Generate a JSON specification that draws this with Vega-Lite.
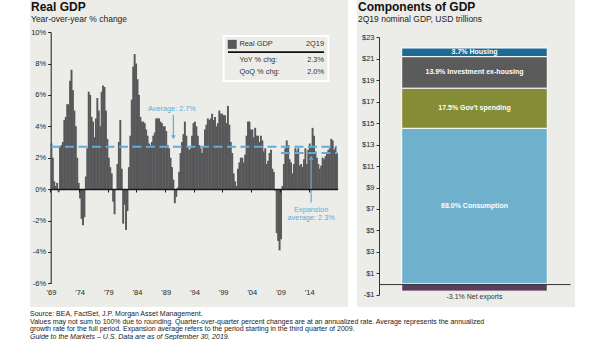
{
"$schema": "https://vega.github.io/schema/vega-lite/v6.json",
"background": "white",
"padding": {"left": 30, "top": 0, "right": 30, "bottom": 0},
"config": {"view": {"fill": "#ecece8", "stroke": null}, "font": "Liberation Sans", "axis": {"grid": false, "labelFont": "Liberation Sans", "labelOverlap": false, "labelBound": false}},
"spacing": 9,
"title": {"text": ["Source: BEA, FactSet, J.P. Morgan Asset Management.", "Values may not sum to 100% due to rounding. Quarter-over-quarter percent changes are at an annualized rate. Average represents the annualized", "growth rate for the full period. Expansion average refers to the period starting in the third quarter of 2009."], "subtitle": "Guide to the Markets – U.S. Data are as of September 30, 2019.", "orient": "bottom", "anchor": "start", "frame": "group", "offset": 3, "font": "Liberation Sans", "fontSize": 7, "fontWeight": "normal", "lineHeight": 7.6, "color": "#1a1a1a", "subtitleFont": "Liberation Sans", "subtitleFontSize": 7, "subtitleFontStyle": "italic", "subtitleColor": "#1a1a1a", "subtitlePadding": 0.6, "subtitleLineHeight": 7.6},
"datasets": {
"gdp": [
{"q":"1969Q3","v":2.9},{"q":"1969Q4","v":2.0},
{"q":"1970Q1","v":0.5},{"q":"1970Q2","v":0.2},{"q":"1970Q3","v":0.4},{"q":"1970Q4","v":-0.2},
{"q":"1971Q1","v":2.7},{"q":"1971Q2","v":2.8},{"q":"1971Q3","v":3.0},{"q":"1971Q4","v":4.4},
{"q":"1972Q1","v":4.6},{"q":"1972Q2","v":5.4},{"q":"1972Q3","v":5.4},{"q":"1972Q4","v":6.9},
{"q":"1973Q1","v":7.6},{"q":"1973Q2","v":6.3},{"q":"1973Q3","v":5.0},{"q":"1973Q4","v":4.0},
{"q":"1974Q1","v":2.0},{"q":"1974Q2","v":0.4},{"q":"1974Q3","v":-0.6},{"q":"1974Q4","v":-1.9},
{"q":"1975Q1","v":-2.3},{"q":"1975Q2","v":-1.8},{"q":"1975Q3","v":0.8},{"q":"1975Q4","v":2.6},
{"q":"1976Q1","v":6.2},{"q":"1976Q2","v":6.0},{"q":"1976Q3","v":4.6},{"q":"1976Q4","v":4.3},
{"q":"1977Q1","v":3.3},{"q":"1977Q2","v":4.5},{"q":"1977Q3","v":5.8},{"q":"1977Q4","v":5.0},
{"q":"1978Q1","v":4.0},{"q":"1978Q2","v":6.2},{"q":"1978Q3","v":6.6},{"q":"1978Q4","v":6.5},
{"q":"1979Q1","v":5.0},{"q":"1979Q2","v":3.2},{"q":"1979Q3","v":2.0},{"q":"1979Q4","v":1.4},
{"q":"1980Q1","v":1.0},{"q":"1980Q2","v":-0.8},{"q":"1980Q3","v":-1.6},{"q":"1980Q4","v":0.0},
{"q":"1981Q1","v":1.6},{"q":"1981Q2","v":3.0},{"q":"1981Q3","v":4.4},{"q":"1981Q4","v":1.3},
{"q":"1982Q1","v":-2.2},{"q":"1982Q2","v":-1.0},{"q":"1982Q3","v":-2.6},{"q":"1982Q4","v":-1.4},
{"q":"1983Q1","v":1.4},{"q":"1983Q2","v":3.4},{"q":"1983Q3","v":5.7},{"q":"1983Q4","v":7.8},
{"q":"1984Q1","v":8.6},{"q":"1984Q2","v":8.0},{"q":"1984Q3","v":7.0},{"q":"1984Q4","v":6.0},
{"q":"1985Q1","v":4.6},{"q":"1985Q2","v":4.3},{"q":"1985Q3","v":4.3},{"q":"1985Q4","v":4.2},
{"q":"1986Q1","v":3.8},{"q":"1986Q2","v":3.4},{"q":"1986Q3","v":2.9},{"q":"1986Q4","v":2.8},
{"q":"1987Q1","v":3.0},{"q":"1987Q2","v":3.4},{"q":"1987Q3","v":3.6},{"q":"1987Q4","v":4.5},
{"q":"1988Q1","v":4.5},{"q":"1988Q2","v":4.5},{"q":"1988Q3","v":4.3},{"q":"1988Q4","v":4.2},
{"q":"1989Q1","v":4.0},{"q":"1989Q2","v":4.0},{"q":"1989Q3","v":3.7},{"q":"1989Q4","v":2.8},
{"q":"1990Q1","v":2.6},{"q":"1990Q2","v":2.0},{"q":"1990Q3","v":1.4},{"q":"1990Q4","v":0.6},
{"q":"1991Q1","v":-0.9},{"q":"1991Q2","v":-0.5},{"q":"1991Q3","v":0.1},{"q":"1991Q4","v":1.1},
{"q":"1992Q1","v":2.3},{"q":"1992Q2","v":3.0},{"q":"1992Q3","v":3.5},{"q":"1992Q4","v":4.3},
{"q":"1993Q1","v":3.4},{"q":"1993Q2","v":2.7},{"q":"1993Q3","v":2.5},{"q":"1993Q4","v":2.6},
{"q":"1994Q1","v":3.4},{"q":"1994Q2","v":4.2},{"q":"1994Q3","v":4.3},{"q":"1994Q4","v":4.0},
{"q":"1995Q1","v":3.4},{"q":"1995Q2","v":2.8},{"q":"1995Q3","v":2.6},{"q":"1995Q4","v":2.3},
{"q":"1996Q1","v":2.7},{"q":"1996Q2","v":3.8},{"q":"1996Q3","v":4.1},{"q":"1996Q4","v":4.5},
{"q":"1997Q1","v":4.4},{"q":"1997Q2","v":4.5},{"q":"1997Q3","v":4.8},{"q":"1997Q4","v":4.4},
{"q":"1998Q1","v":4.6},{"q":"1998Q2","v":4.0},{"q":"1998Q3","v":4.2},{"q":"1998Q4","v":5.0},
{"q":"1999Q1","v":4.8},{"q":"1999Q2","v":4.8},{"q":"1999Q3","v":4.7},{"q":"1999Q4","v":4.7},
{"q":"2000Q1","v":4.2},{"q":"2000Q2","v":5.3},{"q":"2000Q3","v":4.1},{"q":"2000Q4","v":3.0},
{"q":"2001Q1","v":2.3},{"q":"2001Q2","v":1.0},{"q":"2001Q3","v":0.5},{"q":"2001Q4","v":0.2},
{"q":"2002Q1","v":1.3},{"q":"2002Q2","v":1.7},{"q":"2002Q3","v":2.0},{"q":"2002Q4","v":2.0},
{"q":"2003Q1","v":1.7},{"q":"2003Q2","v":2.2},{"q":"2003Q3","v":3.4},{"q":"2003Q4","v":4.3},
{"q":"2004Q1","v":4.3},{"q":"2004Q2","v":3.8},{"q":"2004Q3","v":3.8},{"q":"2004Q4","v":3.3},
{"q":"2005Q1","v":3.9},{"q":"2005Q2","v":3.4},{"q":"2005Q3","v":3.4},{"q":"2005Q4","v":3.0},
{"q":"2006Q1","v":3.4},{"q":"2006Q2","v":3.1},{"q":"2006Q3","v":2.4},{"q":"2006Q4","v":2.6},
{"q":"2007Q1","v":1.6},{"q":"2007Q2","v":1.8},{"q":"2007Q3","v":2.3},{"q":"2007Q4","v":2.5},
{"q":"2008Q1","v":1.3},{"q":"2008Q2","v":1.1},{"q":"2008Q3","v":-0.1},{"q":"2008Q4","v":-2.8},
{"q":"2009Q1","v":-3.3},{"q":"2009Q2","v":-3.9},{"q":"2009Q3","v":-3.2},{"q":"2009Q4","v":0.2},
{"q":"2010Q1","v":1.6},{"q":"2010Q2","v":2.6},{"q":"2010Q3","v":3.1},{"q":"2010Q4","v":2.8},
{"q":"2011Q1","v":1.9},{"q":"2011Q2","v":1.7},{"q":"2011Q3","v":1.0},{"q":"2011Q4","v":1.6},
{"q":"2012Q1","v":2.6},{"q":"2012Q2","v":2.4},{"q":"2012Q3","v":2.6},{"q":"2012Q4","v":1.5},
{"q":"2013Q1","v":1.6},{"q":"2013Q2","v":1.4},{"q":"2013Q3","v":1.9},{"q":"2013Q4","v":2.6},
{"q":"2014Q1","v":1.6},{"q":"2014Q2","v":2.5},{"q":"2014Q3","v":2.9},{"q":"2014Q4","v":2.7},
{"q":"2015Q1","v":3.9},{"q":"2015Q2","v":3.4},{"q":"2015Q3","v":2.4},{"q":"2015Q4","v":2.0},
{"q":"2016Q1","v":1.6},{"q":"2016Q2","v":1.3},{"q":"2016Q3","v":1.5},{"q":"2016Q4","v":2.0},
{"q":"2017Q1","v":1.9},{"q":"2017Q2","v":2.1},{"q":"2017Q3","v":2.3},{"q":"2017Q4","v":2.5},
{"q":"2018Q1","v":2.6},{"q":"2018Q2","v":3.2},{"q":"2018Q3","v":3.1},{"q":"2018Q4","v":2.5},
{"q":"2019Q1","v":2.7},{"q":"2019Q2","v":2.3}
],
"comp": [
{"bar":"2Q19","c":"Consumption","lbl":"68.0% Consumption","lo":0,"hi":14.52},
{"bar":"2Q19","c":"Gov't spending","lbl":"17.5% Gov't  spending","lo":14.52,"hi":18.26},
{"bar":"2Q19","c":"Investment ex-housing","lbl":"13.9% Investment ex-housing","lo":18.26,"hi":21.2},
{"bar":"2Q19","c":"Housing","lbl":"3.7% Housing","lo":21.2,"hi":22.0},
{"bar":"2Q19","c":"Net exports","lbl":"-3.1% Net exports","lo":-0.66,"hi":0}
]
},
"hconcat": [
{
"width": 318, "height": 307,
"title": {"text": "Real GDP", "subtitle": "Year-over-year % change", "anchor": "start", "frame": "group", "offset": -24, "dx": 1, "fontSize": 12, "fontWeight": "bold", "color": "#111111", "subtitleFontSize": 8.5, "subtitleColor": "#222222", "subtitlePadding": 1},
"data": {"name": "gdp"},
"layer": [
{"mark": {"type": "bar", "color": "#58585a", "width": {"band": 1.35}},
 "encoding": {
  "x": {"field": "q", "type": "ordinal", "scale": {"type": "band", "range": [20.7, 307.7], "paddingInner": 0, "paddingOuter": 0},
        "axis": {"values": ["1969Q3","1974Q3","1979Q3","1984Q3","1989Q3","1994Q3","1999Q3","2004Q3","2009Q3","2014Q3"], "bandPosition": 0, "labelExpr": "\"'\" + slice(datum.value, 2, 4)", "offset": -118, "domainColor": "#1a1a1a", "domainWidth": 1.3, "tickColor": "#1a1a1a", "tickSize": 3, "labelPadding": 96.6, "labelAngle": 0, "labelFontSize": 7.5, "labelColor": "#262626", "labelOverlap": false, "title": null, "zindex": 1}},
  "y": {"field": "v", "type": "quantitative", "scale": {"domain": [-6, 10], "range": [283.3, 32.1], "nice": false},
        "axis": {"values": [-6,-4,-2,0,2,4,6,8,10], "tickCount": 40, "labelExpr": "datum.value + '%'", "offset": -20.7, "domainColor": "#1a1a1a", "tickColor": "#1a1a1a", "tickSize": 3, "labelPadding": 2, "labelFontSize": 7.5, "labelColor": "#262626", "labelOverlap": false, "labelBound": false, "labelFlush": false, "title": null}}
 }},
{"mark": {"type": "line", "color": "#5fadd8", "strokeWidth": 2, "strokeDash": [9, 4.5]},
 "encoding": {"x": {"field": "q", "type": "ordinal"}, "y": {"datum": 2.7}}},
{"transform": [{"filter": "datum.q >= '2009Q3'"}],
 "mark": {"type": "line", "color": "#5fadd8", "strokeWidth": 2, "strokeDash": [9, 4.5]},
 "encoding": {"x": {"field": "q", "type": "ordinal"}, "y": {"datum": 2.3}}},
{"data": {"values": [{}]}, "mark": {"type": "text", "color": "#5fadd8", "fontSize": 7.3, "align": "center", "baseline": "middle"},
 "encoding": {"x": {"datum": "1990Q3", "type": "ordinal"}, "y": {"datum": 5.1}, "text": {"value": "Average: 2.7%"}}},
{"data": {"values": [{}]}, "mark": {"type": "rule", "color": "#5fadd8", "strokeWidth": 1.2},
 "encoding": {"x": {"datum": "1990Q4", "type": "ordinal"}, "y": {"datum": 4.72}, "y2": {"datum": 3.4}}},
{"data": {"values": [{}]}, "mark": {"type": "point", "shape": "triangle-down", "filled": true, "color": "#5fadd8", "size": 22, "opacity": 1},
 "encoding": {"x": {"datum": "1990Q4", "type": "ordinal"}, "y": {"datum": 3.3}}},
{"data": {"values": [{}]}, "mark": {"type": "text", "color": "#5fadd8", "fontSize": 7.3, "align": "center", "baseline": "top", "lineHeight": 8},
 "encoding": {"x": {"datum": "2014Q4", "type": "ordinal"}, "y": {"datum": -1.1}, "text": {"value": ["Expansion", "average: 2.3%"]}}},
{"data": {"values": [{}]}, "mark": {"type": "rule", "color": "#5fadd8", "strokeWidth": 1.2},
 "encoding": {"x": {"datum": "2014Q4", "type": "ordinal"}, "y": {"datum": -0.85}, "y2": {"datum": 1.85}}},
{"data": {"values": [{}]}, "mark": {"type": "point", "shape": "triangle-up", "filled": true, "color": "#5fadd8", "size": 22, "opacity": 1},
 "encoding": {"x": {"datum": "2014Q4", "type": "ordinal"}, "y": {"datum": 2.0}}},
{"data": {"values": [{}]}, "mark": {"type": "rect", "filled": false, "stroke": "white", "strokeWidth": 2},
 "encoding": {"x": {"datum": "1999Q3", "type": "ordinal"}, "x2": {"datum": "2017Q4"}, "y": {"datum": 9.75}, "y2": {"datum": 6.88}}},
{"data": {"values": [{}]}, "mark": {"type": "point", "shape": "square", "filled": true, "color": "#58585a", "size": 81, "opacity": 1},
 "encoding": {"x": {"datum": "2001Q1", "type": "ordinal"}, "y": {"datum": 9.22}}},
{"data": {"values": [{}]}, "mark": {"type": "text", "color": "#333333", "fontSize": 7.4, "align": "left", "baseline": "middle"},
 "encoding": {"x": {"datum": "2002Q2", "type": "ordinal"}, "y": {"datum": 9.22}, "text": {"value": "Real GDP"}}},
{"data": {"values": [{}]}, "mark": {"type": "text", "color": "#333333", "fontSize": 7.4, "align": "right", "baseline": "middle"},
 "encoding": {"x": {"datum": "2017Q1", "type": "ordinal"}, "y": {"datum": 9.22}, "text": {"value": "2Q19"}}},
{"data": {"values": [{}]}, "mark": {"type": "rule", "color": "#111111", "strokeWidth": 1.8},
 "encoding": {"x": {"datum": "2000Q2", "type": "ordinal"}, "x2": {"datum": "2017Q1"}, "y": {"datum": 8.72}}},
{"data": {"values": [{}]}, "mark": {"type": "text", "color": "#333333", "fontSize": 7.4, "align": "left", "baseline": "middle"},
 "encoding": {"x": {"datum": "2002Q2", "type": "ordinal"}, "y": {"datum": 8.2}, "text": {"value": "YoY % chg:"}}},
{"data": {"values": [{}]}, "mark": {"type": "text", "color": "#333333", "fontSize": 7.4, "align": "left", "baseline": "middle"},
 "encoding": {"x": {"datum": "2002Q2", "type": "ordinal"}, "y": {"datum": 7.48}, "text": {"value": "QoQ % chg:"}}},
{"data": {"values": [{}]}, "mark": {"type": "text", "color": "#333333", "fontSize": 7.4, "align": "right", "baseline": "middle"},
 "encoding": {"x": {"datum": "2017Q1", "type": "ordinal"}, "y": {"datum": 8.2}, "text": {"value": "2.3%"}}},
{"data": {"values": [{}]}, "mark": {"type": "text", "color": "#333333", "fontSize": 7.4, "align": "right", "baseline": "middle"},
 "encoding": {"x": {"datum": "2017Q1", "type": "ordinal"}, "y": {"datum": 7.48}, "text": {"value": "2.0%"}}}
]
},
{
"width": 218, "height": 307,
"title": {"text": "Components of GDP", "subtitle": "2Q19 nominal GDP, USD trillions", "anchor": "start", "frame": "group", "offset": -24, "dx": 1, "fontSize": 12, "fontWeight": "bold", "color": "#111111", "subtitleFontSize": 8.5, "subtitleColor": "#222222", "subtitlePadding": 1},
"data": {"name": "comp"},
"transform": [{"calculate": "(datum.lo + datum.hi) / 2", "as": "mid"}],
"layer": [
{"mark": {"type": "bar", "stroke": "white", "strokeWidth": 1},
 "encoding": {
  "x": {"field": "bar", "type": "nominal", "scale": {"type": "band", "range": [22, 213], "paddingInner": 0, "paddingOuter": 0.156},
        "axis": {"orient": "bottom", "offset": -22.93, "labels": false, "ticks": false, "domainColor": "#333333", "domainWidth": 1, "zindex": 1, "title": null}},
  "y": {"field": "lo", "type": "quantitative", "scale": {"domain": [-1, 23], "range": [294.8, 37.3], "nice": false},
        "axis": {"values": [-1,1,3,5,7,9,11,13,15,17,19,21,23], "tickCount": 40, "labelExpr": "(datum.value < 0 ? '-$' : '$') + abs(datum.value)", "offset": -22, "domainColor": "#333333", "tickColor": "#333333", "tickSize": 3, "labelPadding": 2, "labelFontSize": 7.5, "labelColor": "#262626", "labelOverlap": false, "labelBound": false, "labelFlush": false, "title": null}},
  "y2": {"field": "hi"},
  "color": {"field": "c", "type": "nominal", "scale": {"domain": ["Consumption", "Gov't spending", "Investment ex-housing", "Housing", "Net exports"], "range": ["#6fb0cd", "#858c36", "#5b5b5c", "#1d6a94", "#5b3c5d"]}, "legend": null}
 }},
{"transform": [{"filter": "datum.c != 'Net exports'"}],
 "mark": {"type": "text", "color": "white", "fontSize": 7, "fontWeight": "bold", "align": "center", "baseline": "middle"},
 "encoding": {"x": {"field": "bar", "type": "nominal"}, "y": {"field": "mid", "type": "quantitative"}, "text": {"field": "lbl"}}},
{"transform": [{"filter": "datum.c == 'Net exports'"}],
 "mark": {"type": "text", "color": "#333333", "fontSize": 7, "align": "center", "baseline": "top", "dy": 1.5},
 "encoding": {"x": {"field": "bar", "type": "nominal"}, "y": {"field": "lo", "type": "quantitative"}, "text": {"field": "lbl"}}}
]
}
]
}
